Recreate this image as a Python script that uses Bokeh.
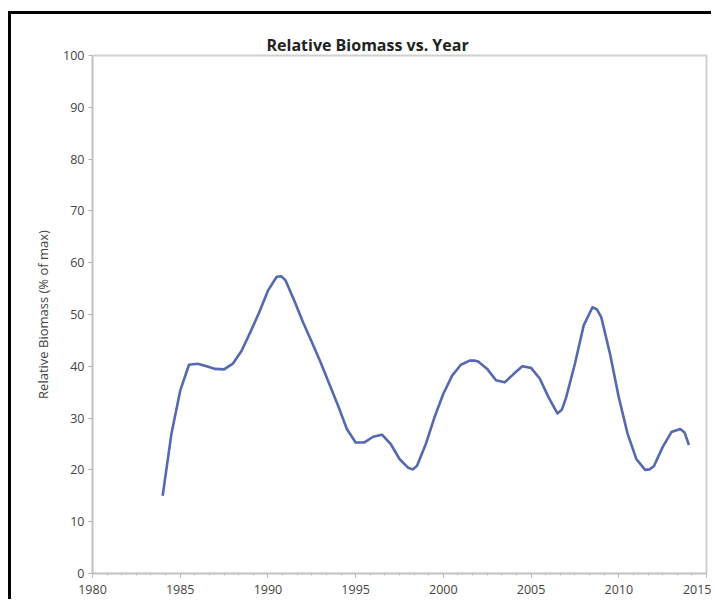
from bokeh.plotting import figure
from bokeh.models import SingleIntervalTicker, Range1d
from bokeh.embed import file_html
from bokeh.resources import INLINE

# Relative biomass (half-year steps, extra readings near turns)
years = [1984.0, 1984.5, 1985.0, 1985.5, 1986.0, 1986.5, 1987.0, 1987.5, 1988.0, 1988.5,
         1989.0, 1989.5, 1990.0, 1990.5, 1990.75, 1991.0, 1991.5, 1992.0, 1992.5, 1993.0,
         1993.5, 1994.0, 1994.5, 1995.0, 1995.5, 1996.0, 1996.5, 1997.0, 1997.5, 1998.0,
         1998.25, 1998.5, 1999.0, 1999.5, 2000.0, 2000.5, 2001.0, 2001.5, 2001.75, 2002.0,
         2002.5, 2003.0, 2003.5, 2004.0, 2004.5, 2005.0, 2005.5, 2006.0, 2006.5, 2006.75,
         2007.0, 2007.5, 2008.0, 2008.5, 2008.75, 2009.0, 2009.5, 2010.0, 2010.5, 2011.0,
         2011.5, 2011.75, 2012.0, 2012.5, 2013.0, 2013.5, 2013.75, 2014.0]
biomass = [15.0, 27.0, 35.3, 40.3, 40.5, 40.0, 39.5, 39.4, 40.5, 43.0,
           46.6, 50.4, 54.6, 57.3, 57.4, 56.6, 52.7, 48.5, 44.7, 40.8,
           36.6, 32.4, 27.9, 25.3, 25.3, 26.4, 26.8, 25.0, 22.1, 20.4,
           20.1, 20.8, 25.0, 30.2, 34.7, 38.2, 40.3, 41.1, 41.1, 40.9,
           39.5, 37.3, 36.9, 38.5, 40.0, 39.7, 37.6, 34.0, 30.9, 31.6,
           34.0, 40.5, 47.9, 51.4, 51.0, 49.5, 42.4, 34.0, 27.0, 22.1,
           20.0, 20.1, 20.7, 24.4, 27.3, 27.9, 27.2, 24.8]

title_text = "Relative Biomass vs. Year"
y_label = "Relative Biomass (% of max)"

p = figure(width=703, height=588, output_backend="svg", toolbar_location=None,
           x_range=Range1d(1980, 2015), y_range=Range1d(0, 100),
           min_border_left=81, min_border_right=8, min_border_top=41, min_border_bottom=29)
p.styles = {"border-left": "3px solid black", "border-top": "3px solid black",
            "margin-top": "11px", "margin-left": "8px"}

p.background_fill_color = "white"
p.border_fill_color = "white"
p.outline_line_color = "#d0d0d0"
p.outline_line_width = 2

p.title.text = title_text
p.title.align = "left"
p.title.text_font = "Open Sans"
p.title.text_font_style = "bold"
p.title.text_font_size = "16px"
p.title.text_color = "#222222"
p.title.offset = 174
p.title.standoff = 0

p.xgrid.visible = False
p.ygrid.visible = False

p.line(years, biomass, line_color="#5568b0", line_width=2.6, line_join="round")

xa = p.xaxis[0]
xa.ticker = SingleIntervalTicker(interval=5, num_minor_ticks=6)
ya = p.yaxis[0]
ya.ticker = SingleIntervalTicker(interval=10, num_minor_ticks=0)
ya.axis_label = y_label
ya.axis_label_text_font = "Open Sans"
ya.axis_label_text_font_style = "normal"
ya.axis_label_text_font_size = "13px"
ya.axis_label_text_color = "#444444"
ya.axis_label_standoff = 8

for ax in (xa, ya):
    ax.axis_line_color = "#c4c4c4"
    ax.axis_line_width = 1.5
    ax.major_tick_line_color = "#b0b0b0"
    ax.minor_tick_line_color = "#c0c0c0"
    ax.major_tick_in = 0
    ax.major_tick_out = 4
    ax.minor_tick_in = 0
    ax.minor_tick_out = 2
    ax.major_label_text_font = "Open Sans"
    ax.major_label_text_font_size = "12.5px"
    ax.major_label_text_color = "#444444"
xa.major_label_standoff = 7
ya.major_label_standoff = 4

open("out.html", "w").write(file_html(p, INLINE))
